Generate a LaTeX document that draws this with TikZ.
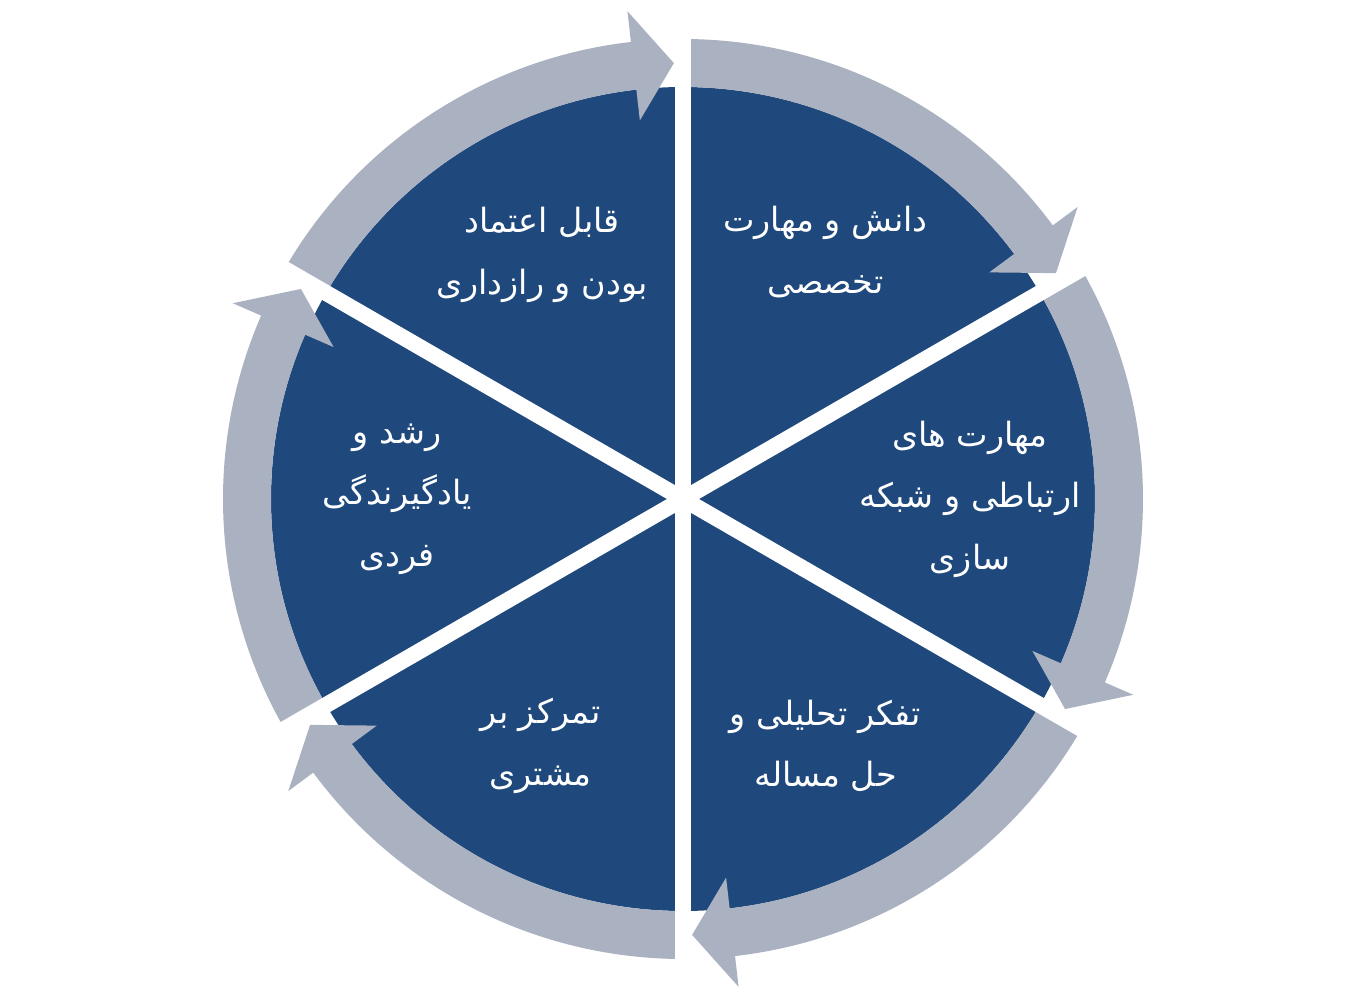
\documentclass[tikz,border=0pt]{standalone}
\usepackage{fontspec}
\newfontfamily\farsi[Script=Arabic]{DejaVu Sans}
\TeXXeTstate=1
\newcommand{\fa}[1]{\beginR #1\endR}
\definecolor{segblue}{HTML}{1F497D}
\definecolor{ringgrey}{HTML}{AAB1C1}

\begin{document}
\begin{tikzpicture}[x=0.02cm, y=0.02cm,
                    main node/.style={align=center, text=white, font=\farsi\fontsize{19}{35}\selectfont},
                    gap/.style={white, line width=0.32cm}]

  \useasboundingbox (-683,-506) rectangle (680,499);

  % disc
  \fill[segblue] (0,0) circle (412);

  % ring arrows, clockwise
  \fill[ringgrey] (90:460) arc[start angle=90, end angle=36.5, radius=460] -- (36.5:491) -- (31.2:436)
    -- (36.5:381) -- (36.5:412) arc[start angle=36.5, end angle=90, radius=412] -- cycle;
  \fill[ringgrey] (30:460) arc[start angle=30, end angle=-23.5, radius=460] -- (-23.5:491) -- (-28.8:436)
    -- (-23.5:381) -- (-23.5:412) arc[start angle=-23.5, end angle=30, radius=412] -- cycle;
  \fill[ringgrey] (-30:460) arc[start angle=-30, end angle=-83.5, radius=460] -- (-83.5:491) -- (-88.8:436)
    -- (-83.5:381) -- (-83.5:412) arc[start angle=-83.5, end angle=-30, radius=412] -- cycle;
  \fill[ringgrey] (-90:460) arc[start angle=-90, end angle=-143.5, radius=460] -- (-143.5:491) -- (-148.8:436)
    -- (-143.5:381) -- (-143.5:412) arc[start angle=-143.5, end angle=-90, radius=412] -- cycle;
  \fill[ringgrey] (-150:460) arc[start angle=-150, end angle=-203.5, radius=460] -- (-203.5:491) -- (-208.8:436)
    -- (-203.5:381) -- (-203.5:412) arc[start angle=-203.5, end angle=-150, radius=412] -- cycle;
  \fill[ringgrey] (150:460) arc[start angle=150, end angle=96.5, radius=460] -- (96.5:491) -- (91.2:436)
    -- (96.5:381) -- (96.5:412) arc[start angle=96.5, end angle=150, radius=412] -- cycle;

  % gaps between the segments
  \draw[gap] (90:470) -- (-90:470);
  \draw[gap] (30:470) -- (-150:470);
  \draw[gap] (-30:470) -- (150:470);

  \node[main node] (1) at (60:285) {\fa{دانش و مهارت}\\\fa{تخصصی}};
  \node[main node] (2) at (0:287) {\fa{مهارت های}\\\fa{ارتباطی و شبکه}\\\fa{سازی}};
  \node[main node] (3) at (-60:285) {\fa{تفکر تحلیلی و}\\\fa{حل مساله}};
  \node[main node] (4) at (-120:285) {\fa{تمرکز بر}\\\fa{مشتری}};
  \node[main node] (5) at (180:286) {\fa{رشد و}\\\fa{یادگیرندگی}\\\fa{فردی}};
  \node[main node] (6) at (120:282) {\fa{قابل اعتماد}\\\fa{بودن و رازداری}};
\end{tikzpicture}
\end{document}
